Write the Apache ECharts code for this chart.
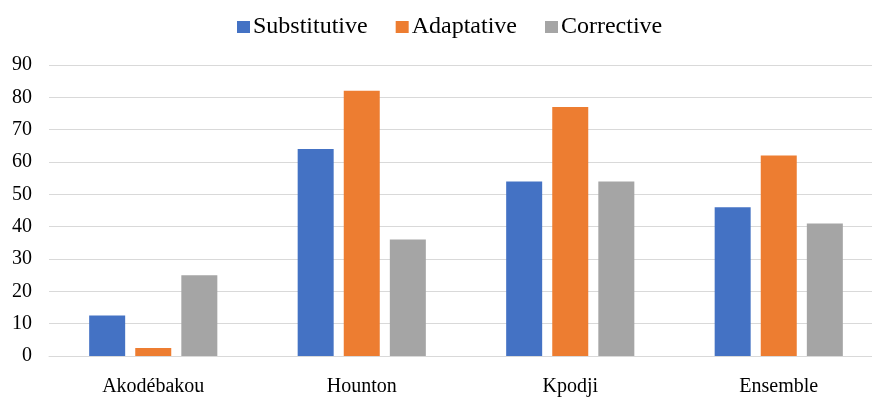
<!DOCTYPE html>
<html>
<head>
<meta charset="utf-8">
<script src="https://cdn.jsdelivr.net/npm/echarts@6/dist/echarts.min.js"></script>
<style>
  html, body { margin: 0; padding: 0; background: #fff; overflow: hidden; }
  /* plot runs slightly past the right edge in the reference, so the canvas is wider than the window */
  #chart { width: 884px; height: 397px; }
</style>
</head>
<body>
<div id="chart"></div>
<script>
const categories = ['Akodébakou', 'Hounton', 'Kpodji', 'Ensemble'];
const substitutive = [12.5, 64, 54, 46];
const adaptative = [2.5, 82, 77, 62];
const corrective = [25, 36, 54, 41];

const FONT = '"Liberation Serif", "DejaVu Serif", serif';

const chart = echarts.init(document.getElementById('chart'));

function barSeries(name, data, color) {
    return {
        name: name,
        type: 'bar',
        data: data,
        barWidth: 36,
        barGap: '28%',
        itemStyle: { color: color },
        emphasis: { disabled: true }
    };
}

chart.setOption({
    animation: false,
    textStyle: { fontFamily: FONT },
    legend: {
        top: 10,
        left: 232,
        itemWidth: 13,
        itemHeight: 12,
        itemGap: 28,
        icon: 'rect',
        textStyle: { fontFamily: FONT, fontSize: 24, color: '#000', padding: [0, 0, 0, -2] },
        data: ['Substitutive', 'Adaptative', 'Corrective']
    },
    grid: { left: 49, right: 1, top: 65, bottom: 39.5, containLabel: false },
    xAxis: {
        type: 'category',
        data: categories,
        axisTick: { show: false },
        axisLine: { lineStyle: { color: '#d9d9d9', width: 1 } },
        axisLabel: { fontFamily: FONT, fontSize: 20, color: '#000', margin: 21 }
    },
    yAxis: {
        type: 'value',
        min: 0,
        max: 90,
        interval: 10,
        axisLine: { show: false },
        axisTick: { show: false },
        splitLine: { lineStyle: { color: '#d9d9d9', width: 1 } },
        axisLabel: { fontFamily: FONT, fontSize: 20, color: '#000', margin: 17 }
    },
    series: [
        barSeries('Substitutive', substitutive, '#4472C4'),
        barSeries('Adaptative', adaptative, '#ED7D31'),
        barSeries('Corrective', corrective, '#A5A5A5')
    ]
});
</script>
</body>
</html>
